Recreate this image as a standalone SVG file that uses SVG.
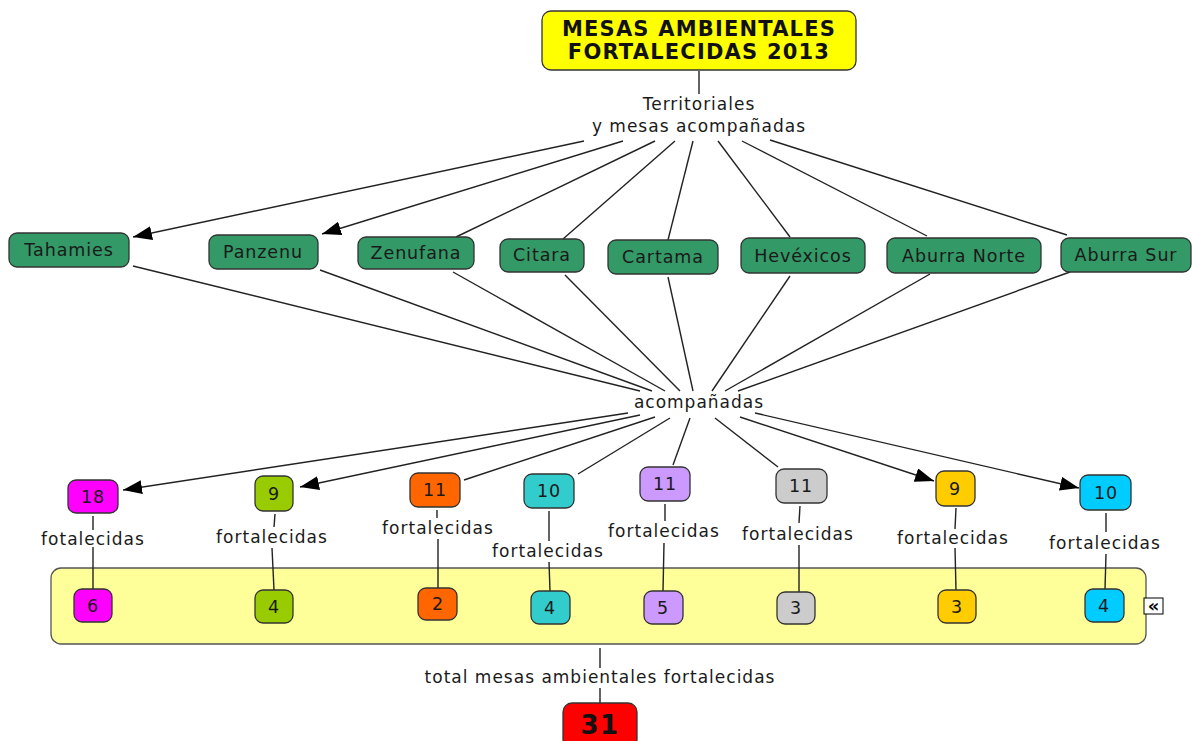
<svg xmlns="http://www.w3.org/2000/svg" width="1192" height="741" viewBox="0 0 1192 741">
<style>
text{font-family:"DejaVu Sans","Liberation Sans",sans-serif;fill:#1a1a1a;text-anchor:middle}
.lbl{font-size:17px;letter-spacing:1px}
.nt{font-size:17.5px;letter-spacing:0.9px}
.title{font-size:21px;font-weight:bold;letter-spacing:1.2px;fill:#111}
.c{stroke:#222;stroke-width:1.4;fill:none}
.ca{stroke:#222;stroke-width:1.4;fill:none;marker-end:url(#ah)}
.g{fill:#339966;stroke:#333;stroke-width:1.3}
.n{stroke:#333;stroke-width:1.3}
</style>
<defs>
<marker id="ah" markerUnits="userSpaceOnUse" markerWidth="20" markerHeight="14" refX="19" refY="7" orient="auto">
<path d="M0,0 L19,7 L0,14 z" fill="#000"/>
</marker>
</defs>
<rect id="container" x="51" y="568" width="1095" height="76" rx="10" fill="#ffff99" stroke="#555" stroke-width="1.3"/>
<g id="connectors">
<line class="c" x1="699" y1="71" x2="699" y2="94"/>
<line class="ca" x1="584" y1="141" x2="133" y2="237"/>
<line class="ca" x1="623" y1="141" x2="322" y2="234"/>
<line class="c" x1="655" y1="141" x2="456" y2="237"/>
<line class="c" x1="675" y1="141" x2="563" y2="239"/>
<line class="c" x1="693" y1="141" x2="668" y2="240"/>
<line class="c" x1="718" y1="141" x2="790" y2="237"/>
<line class="c" x1="742" y1="141" x2="927" y2="236"/>
<line class="c" x1="770" y1="140" x2="1067" y2="235"/>
<line class="c" x1="133" y1="266" x2="640" y2="391"/>
<line class="c" x1="320" y1="270" x2="652" y2="391"/>
<line class="c" x1="453" y1="272" x2="665" y2="391"/>
<line class="c" x1="565" y1="275" x2="680" y2="391"/>
<line class="c" x1="668" y1="277" x2="693" y2="391"/>
<line class="c" x1="790" y1="276" x2="712" y2="391"/>
<line class="c" x1="930" y1="274" x2="725" y2="391"/>
<line class="c" x1="1070" y1="272" x2="738" y2="391"/>
<line class="ca" x1="628" y1="413" x2="123" y2="490"/>
<line class="ca" x1="640" y1="415" x2="300" y2="487"/>
<line class="c" x1="655" y1="417" x2="464" y2="480"/>
<line class="c" x1="670" y1="418" x2="578" y2="474"/>
<line class="c" x1="690" y1="418" x2="673" y2="465"/>
<line class="c" x1="715" y1="418" x2="778" y2="467"/>
<line class="ca" x1="740" y1="417" x2="934" y2="481"/>
<line class="ca" x1="755" y1="413" x2="1079" y2="488"/>
<line class="c" x1="93" y1="516" x2="93" y2="530"/>
<line class="c" x1="93" y1="547" x2="93" y2="589"/>
<line class="c" x1="275" y1="514" x2="274" y2="527"/>
<line class="c" x1="272" y1="548" x2="274" y2="590"/>
<line class="c" x1="437" y1="510" x2="437" y2="518"/>
<line class="c" x1="438" y1="539" x2="438" y2="588"/>
<line class="c" x1="549" y1="511" x2="549" y2="541"/>
<line class="c" x1="549" y1="562" x2="550" y2="591"/>
<line class="c" x1="665" y1="504" x2="665" y2="521"/>
<line class="c" x1="664" y1="543" x2="663" y2="591"/>
<line class="c" x1="800" y1="506" x2="799" y2="523"/>
<line class="c" x1="799" y1="545" x2="799" y2="592"/>
<line class="c" x1="956" y1="508" x2="955" y2="529"/>
<line class="c" x1="955" y1="548" x2="956" y2="590"/>
<line class="c" x1="1106" y1="513" x2="1106" y2="532"/>
<line class="c" x1="1106" y1="554" x2="1105" y2="589"/>
<line class="c" x1="600" y1="648" x2="600" y2="668"/>
<line class="c" x1="600" y1="688" x2="600" y2="703"/>
<text class="lbl" x="699" y="110">Territoriales</text>
<text class="lbl" x="699" y="132">y mesas acompañadas</text>
<text class="lbl" x="699" y="408">acompañadas</text>
<text class="lbl" x="93" y="545">fotalecidas</text>
<text class="lbl" x="272" y="543">fortalecidas</text>
<text class="lbl" x="438" y="534">fortalecidas</text>
<text class="lbl" x="548" y="557">fortalecidas</text>
<text class="lbl" x="664" y="537">fortalecidas</text>
<text class="lbl" x="798" y="540">fortalecidas</text>
<text class="lbl" x="953" y="544">fortalecidas</text>
<text class="lbl" x="1105" y="549">fortalecidas</text>
<text class="lbl" x="600" y="683">total mesas ambientales fortalecidas</text>
</g>
<g id="title">
<rect x="542" y="11" width="314" height="59" rx="9" fill="#ffff00" stroke="#333" stroke-width="1.3"/>
<text class="title" x="699" y="36">MESAS AMBIENTALES</text>
<text class="title" x="699" y="59">FORTALECIDAS 2013</text>
</g>
<g id="tahamies"><rect class="g" x="9" y="233" width="120" height="34" rx="8"/><text class="nt" x="69" y="256">Tahamies</text></g>
<g id="panzenu"><rect class="g" x="209" y="235" width="109" height="34" rx="8"/><text class="nt" x="263" y="258">Panzenu</text></g>
<g id="zenufana"><rect class="g" x="358" y="237" width="116" height="32" rx="8"/><text class="nt" x="416" y="259">Zenufana</text></g>
<g id="citara"><rect class="g" x="500" y="239" width="84" height="33" rx="8"/><text class="nt" x="542" y="261">Citara</text></g>
<g id="cartama"><rect class="g" x="608" y="240" width="110" height="34" rx="8"/><text class="nt" x="663" y="263">Cartama</text></g>
<g id="hevexicos"><rect class="g" x="741" y="238" width="124" height="35" rx="8"/><text class="nt" x="803" y="262">Hevéxicos</text></g>
<g id="aburra-norte"><rect class="g" x="887" y="238" width="154" height="35" rx="8"/><text class="nt" x="964" y="262">Aburra Norte</text></g>
<g id="aburra-sur"><rect class="g" x="1061" y="238" width="130" height="34" rx="8"/><text class="nt" x="1126" y="261">Aburra Sur</text></g>
<g id="n18"><rect class="n" fill="#ff00ff" x="68" y="480" width="50" height="33" rx="8"/><text class="nt" x="93" y="503">18</text></g>
<g id="n9a"><rect class="n" fill="#99cc00" x="255" y="476" width="38" height="35" rx="8"/><text class="nt" x="274" y="500">9</text></g>
<g id="n11a"><rect class="n" fill="#ff6600" x="410" y="473" width="50" height="34" rx="8"/><text class="nt" x="435" y="496">11</text></g>
<g id="n10a"><rect class="n" fill="#33cccc" x="524" y="474" width="50" height="34" rx="8"/><text class="nt" x="549" y="497">10</text></g>
<g id="n11b"><rect class="n" fill="#cc99ff" x="640" y="467" width="50" height="34" rx="8"/><text class="nt" x="665" y="490">11</text></g>
<g id="n11c"><rect class="n" fill="#cccccc" x="776" y="469" width="51" height="34" rx="8"/><text class="nt" x="801" y="492">11</text></g>
<g id="n9b"><rect class="n" fill="#ffcc00" x="936" y="471" width="39" height="35" rx="8"/><text class="nt" x="955" y="495">9</text></g>
<g id="n10b"><rect class="n" fill="#00ccff" x="1080" y="475" width="51" height="35" rx="8"/><text class="nt" x="1106" y="499">10</text></g>
<g id="b6"><rect class="n" fill="#ff00ff" x="74" y="589" width="38" height="33" rx="8"/><text class="nt" x="93" y="612">6</text></g>
<g id="b4a"><rect class="n" fill="#99cc00" x="255" y="590" width="38" height="33" rx="8"/><text class="nt" x="274" y="613">4</text></g>
<g id="b2"><rect class="n" fill="#ff6600" x="418" y="588" width="39" height="32" rx="8"/><text class="nt" x="438" y="610">2</text></g>
<g id="b4b"><rect class="n" fill="#33cccc" x="531" y="591" width="39" height="33" rx="8"/><text class="nt" x="550" y="614">4</text></g>
<g id="b5"><rect class="n" fill="#cc99ff" x="644" y="591" width="39" height="33" rx="8"/><text class="nt" x="663" y="614">5</text></g>
<g id="b3a"><rect class="n" fill="#cccccc" x="777" y="592" width="38" height="32" rx="8"/><text class="nt" x="796" y="614">3</text></g>
<g id="b3b"><rect class="n" fill="#ffcc00" x="938" y="590" width="38" height="33" rx="8"/><text class="nt" x="957" y="613">3</text></g>
<g id="b4c"><rect class="n" fill="#00ccff" x="1085" y="589" width="39" height="33" rx="8"/><text class="nt" x="1104" y="612">4</text></g>
<g id="collapse"><rect x="1144" y="598" width="19" height="16" fill="#fff" stroke="#000" stroke-width="1"/><text x="1153.5" y="612" style="font-size:18px;font-weight:bold;fill:#000">«</text></g>
<g id="total"><rect class="n" fill="#ff0000" x="563" y="703" width="74" height="45" rx="9"/><text x="600" y="734" style="font-size:26px;font-weight:bold;letter-spacing:1.5px;fill:#111">31</text></g>
</svg>
